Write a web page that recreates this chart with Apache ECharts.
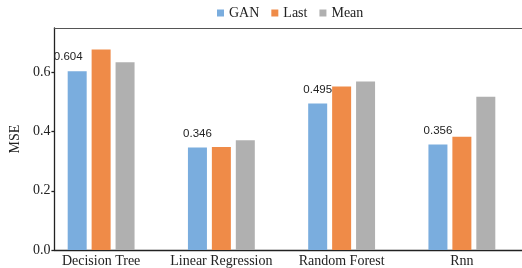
<!DOCTYPE html>
<html>
<head>
<meta charset="utf-8">
<script src="https://cdn.jsdelivr.net/npm/echarts@6/dist/echarts.min.js"></script>
<style>
  html, body { margin: 0; padding: 0; background: #fff; }
  #chart { width: 522px; height: 268px; }
</style>
</head>
<body>
<div id="chart"></div>
<script>
var categories = ['Decision Tree', 'Linear Regression', 'Random Forest', 'Rnn'];
var ganValues = [0.604, 0.346, 0.495, 0.356];
var lastValues = [0.677, 0.348, 0.552, 0.383];
var meanValues = [0.634, 0.371, 0.569, 0.518];
var yTicks = [0, 0.2, 0.4, 0.6];

var serif = 'Liberation Serif';
var sans = 'Liberation Sans';
var lineStyle = { color: '#222', width: 1.3 };

var chart = echarts.init(document.getElementById('chart'));

// bars live in grid 0, the visible frame/axes in grid 1 (same vertical extent)
var option = {
  animation: false,
  legend: {
    left: 212,
    top: 1,
    itemWidth: 7,
    itemHeight: 7,
    itemGap: 12,
    icon: 'rect',
    textStyle: { fontFamily: serif, fontSize: 14, color: '#222' },
    data: ['GAN', 'Last', 'Mean']
  },
  grid: [
    { left: 41, right: -6, top: 28, bottom: 18 },
    { left: 46, right: -6, top: 28, bottom: 18 }
  ],
  xAxis: [{
    type: 'category',
    gridIndex: 0,
    data: categories,
    axisLine: { show: false },
    axisTick: { show: false },
    axisLabel: { interval: 0, margin: 4, fontFamily: serif, fontSize: 14, color: '#222' }
  }, {
    type: 'value',
    gridIndex: 1,
    position: 'bottom',
    axisLine: { show: true, lineStyle: lineStyle },
    axisTick: { show: false },
    axisLabel: { show: false },
    splitLine: { show: false }
  }, {
    type: 'value',
    gridIndex: 1,
    position: 'top',
    axisLine: { show: true, lineStyle: { color: '#555', width: 1.2 } },
    axisTick: { show: false },
    axisLabel: { show: false },
    splitLine: { show: false }
  }],
  yAxis: [{
    type: 'value',
    gridIndex: 0,
    min: 0,
    max: 0.75,
    show: false,
    splitLine: { show: false }
  }, {
    type: 'value',
    gridIndex: 1,
    min: 0,
    max: 0.75,
    name: 'MSE',
    nameLocation: 'middle',
    nameGap: 23,
    nameTextStyle: { fontFamily: serif, fontSize: 14, color: '#222' },
    axisLine: { show: true, lineStyle: lineStyle },
    axisTick: { show: true, length: 3, customValues: yTicks, lineStyle: lineStyle },
    axisLabel: {
      margin: 4,
      customValues: yTicks,
      fontFamily: serif,
      fontSize: 14,
      color: '#222',
      formatter: function (v) { return v.toFixed(1); }
    },
    splitLine: { show: false }
  }],
  series: [{
    name: 'GAN',
    type: 'bar',
    xAxisIndex: 0,
    yAxisIndex: 0,
    barWidth: 19,
    barGap: '26%',
    itemStyle: { color: '#7aadde' },
    label: {
      show: true,
      position: 'top',
      distance: 8,
      fontFamily: sans,
      fontSize: 11.5,
      color: '#222',
      formatter: function (p) { return p.value.toFixed(3); }
    },
    data: ganValues.map(function (v, i) {
      // first label sits a little to the left in the reference
      return i === 0 ? { value: v, label: { offset: [-9, 0] } } : v;
    })
  }, {
    name: 'Last',
    type: 'bar',
    xAxisIndex: 0,
    yAxisIndex: 0,
    barWidth: 19,
    barGap: '26%',
    itemStyle: { color: '#ef8b48' },
    data: lastValues
  }, {
    name: 'Mean',
    type: 'bar',
    xAxisIndex: 0,
    yAxisIndex: 0,
    barWidth: 19,
    barGap: '26%',
    itemStyle: { color: '#b0b0b0' },
    data: meanValues
  }]
};

chart.setOption(option);
</script>
</body>
</html>
